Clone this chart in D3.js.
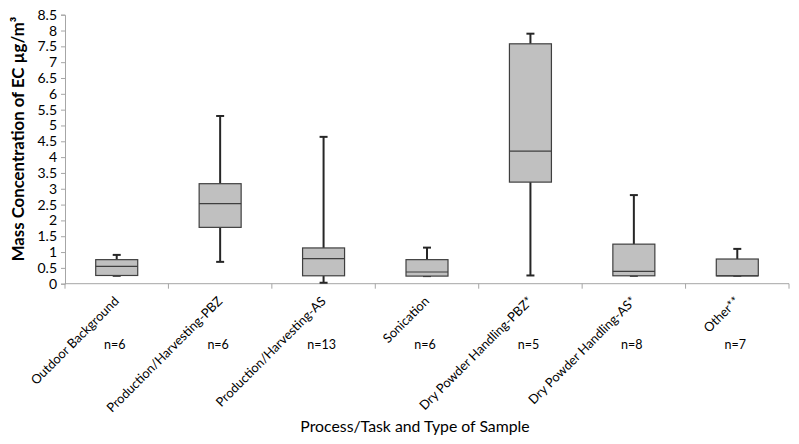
<!DOCTYPE html>
<html><head><meta charset="utf-8">
<script src="https://cdn.jsdelivr.net/npm/d3@7"></script>
<style>body{margin:0;background:#fff}svg{display:block}text{font-family:Lato,"Open Sans",sans-serif}</style>
</head><body><svg id="c" width="799" height="444"></svg>
<script>
const categories=["Outdoor Background","Production/Harvesting-PBZ","Production/Harvesting-AS","Sonication","Dry Powder Handling-PBZ*","Dry Powder Handling-AS*","Other**"];
const nLabels=["n=6","n=6","n=13","n=6","n=5","n=8","n=7"];
const whiskerLow=[0.25,0.69,0.03,0.24,0.26,0.25,0.25];
const q1=[0.26,1.78,0.25,0.24,3.21,0.25,0.25];
const median=[0.55,2.53,0.79,0.37,4.19,0.39,0.25];
const q3=[0.76,3.16,1.13,0.76,7.58,1.25,0.78];
const whiskerHigh=[0.91,5.30,4.64,1.14,7.90,2.80,1.10];
const yTicks=d3.range(0,8.51,0.5);

const svg=d3.select("#c");
const L=65,R=789,T=14.7,B=283.7;
const x=d3.scaleBand().domain(categories).range([L,R]).padding(0);
const y=d3.scaleLinear().domain([0,8.5]).range([B,T]);
const axisCol="#a6a6a6";

// y axis
const ya=svg.append("g").attr("transform",`translate(${L},0)`).call(d3.axisLeft(y).tickValues(yTicks).tickSize(4).tickFormat(d=>d3.format("")(d)));
ya.select(".domain").attr("stroke",axisCol);
ya.selectAll(".tick line").attr("stroke",axisCol);
ya.selectAll(".tick text").attr("font-size",14).attr("fill","#000").attr("x",-8);

// x axis line and ticks
svg.append("line").attr("x1",L).attr("x2",R).attr("y1",B).attr("y2",B).attr("stroke",axisCol);
const bounds=categories.map(c=>x(c)).concat([R]);
svg.selectAll(".xt").data(bounds).join("line").attr("x1",d=>d).attr("x2",d=>d).attr("y1",B).attr("y2",B+5).attr("stroke",axisCol);

const bw=42;
const g=svg.append("g");
categories.forEach((c,i)=>{
  const cx=x(c)+x.bandwidth()/2;
  g.append("line").attr("x1",cx).attr("x2",cx).attr("y1",y(q3[i])).attr("y2",y(whiskerHigh[i])).attr("stroke","#262626").attr("stroke-width",2);
  g.append("line").attr("x1",cx).attr("x2",cx).attr("y1",y(q1[i])).attr("y2",y(whiskerLow[i])).attr("stroke","#262626").attr("stroke-width",2);
  g.append("line").attr("x1",cx-4).attr("x2",cx+4).attr("y1",y(whiskerHigh[i])).attr("y2",y(whiskerHigh[i])).attr("stroke","#262626").attr("stroke-width",2);
  g.append("line").attr("x1",cx-4).attr("x2",cx+4).attr("y1",y(whiskerLow[i])).attr("y2",y(whiskerLow[i])).attr("stroke","#262626").attr("stroke-width",2);
  g.append("rect").attr("x",cx-bw/2).attr("y",y(q3[i])).attr("width",bw).attr("height",y(q1[i])-y(q3[i])).attr("fill","#c0c0c0").attr("stroke","#3f3f3f").attr("stroke-width",1.2);
  g.append("line").attr("x1",cx-bw/2).attr("x2",cx+bw/2).attr("y1",y(median[i])).attr("y2",y(median[i])).attr("stroke","#3f3f3f").attr("stroke-width",1.2);
  svg.append("text").attr("transform",`translate(${cx+3},${302}) rotate(-45)`).attr("text-anchor","end").attr("font-size",12.8).text(c);
  svg.append("text").attr("x",cx-2).attr("y",349).attr("text-anchor","middle").attr("font-size",12.5).attr("font-family","Liberation Sans, Arial, sans-serif").text(nLabels[i]);
});

svg.append("text").attr("x",415).attr("y",432).attr("text-anchor","middle").attr("font-size",15.8).text("Process/Task and Type of Sample");
svg.append("text").attr("transform","translate(24,139) rotate(-90)").attr("text-anchor","middle").attr("font-size",16.8).attr("font-weight","bold").text("Mass Concentration of EC µg/m³");
</script></body></html>
